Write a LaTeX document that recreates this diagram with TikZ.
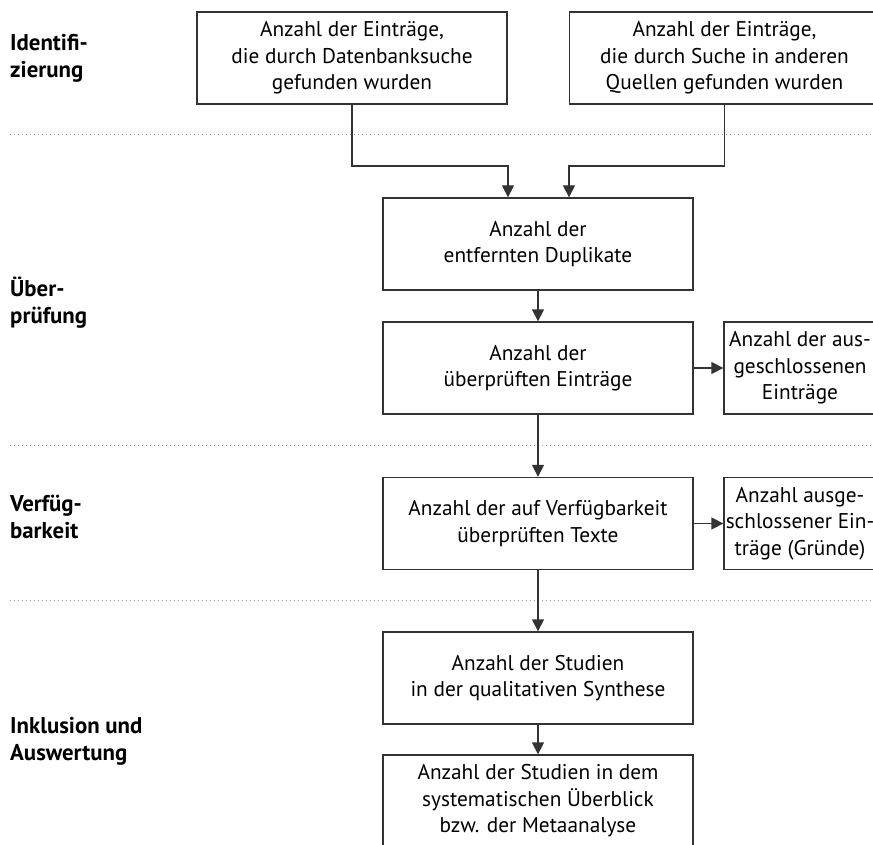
\documentclass[tikz,border=0pt]{standalone}
\usepackage{fontspec}
\setmainfont{PT Sans}
\usetikzlibrary{arrows.meta}
\definecolor{linec}{HTML}{333333}
\definecolor{dotc}{HTML}{9A9A9A}
\tikzset{
  box/.style={draw=linec, line width=1.3pt, minimum width=310pt, minimum height=92pt, align=center, inner sep=0pt, font=\fontsize{21.3}{26.5}\selectfont, text=black},
  sbox/.style={box, minimum width=152pt},
  phase/.style={anchor=west, align=left, inner sep=0pt, font=\fontsize{22.8}{27}\selectfont\bfseries, text=black},
  conn/.style={draw=linec, line width=1.3pt, -{Triangle[width=12pt,length=12pt]}},
  sep/.style={draw=dotc, line width=1pt, dash pattern=on 1.3pt off 2.7pt},
}
\begin{document}
\begin{tikzpicture}[x=1pt,y=-1pt]
\useasboundingbox (0,0) rectangle (873,845);
\clip (0,0) rectangle (873,845);
% separators
\coordinate (s1a) at (10,135); \coordinate (s1b) at (873,135);
\coordinate (s2a) at (10,445); \coordinate (s2b) at (873,445);
\coordinate (s3a) at (10,600); \coordinate (s3b) at (873,600);
\draw[sep] (s1a) -- (s1b);
\draw[sep] (s2a) -- (s2b);
\draw[sep] (s3a) -- (s3b);
% phase labels
\node[phase] (p1) at (10,58) {Identifi-\\zierung};
\node[phase] (p2) at (10,303) {Über-\\prüfung};
\node[phase] (p3) at (10,517) {Verfüg-\\barkeit};
\node[phase] (p4) at (10,741) {Inklusion und\\Auswertung};
% boxes
\node[box] (b1) at (352,58) {Anzahl der Einträge,\\die durch Datenbanksuche\\gefunden wurden};
\node[box] (b2) at (724.5,58) {Anzahl der Einträge,\\die durch Suche in anderen\\Quellen gefunden wurden};
\node[box] (b3) at (538,244) {Anzahl der\\entfernten Duplikate};
\node[box] (b4) at (538,368) {Anzahl der\\überprüften Einträge};
\node[sbox] (e1) at (800,368) {Anzahl der aus-\\geschlossenen\\Einträge};
\node[box] (b5) at (538,523.5) {Anzahl der auf Verfügbarkeit\\überprüften Texte};
\node[sbox] (e2) at (800,523.5) {Anzahl ausge-\\schlossener Ein-\\träge (Gründe)};
\node[box] (b6) at (538,678) {Anzahl der Studien\\in der qualitativen Synthese};
\node[box] (b7) at (538,801) {Anzahl der Studien in dem\\systematischen Überblick\\bzw. der Metaanalyse};
% connectors
\coordinate (j1) at (508,166);
\coordinate (j2) at (569,166);
\draw[conn] (b1.south) |- (j1) -- (j1 |- b3.north);
\draw[conn] (b2.south) |- (j2) -- (j2 |- b3.north);
\draw[conn] (b3) -- (b4);
\draw[conn] (b4) -- (b5);
\draw[conn] (b5) -- (b6);
\draw[conn] (b6) -- (b7);
\draw[conn] (b4) -- (e1);
\draw[conn] (b5) -- (e2);
\end{tikzpicture}
\end{document}
